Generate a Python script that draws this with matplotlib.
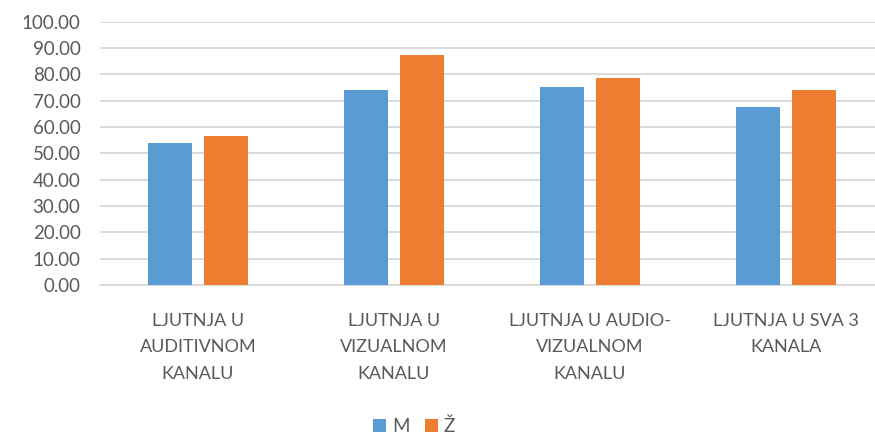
import matplotlib
matplotlib.use("Agg")
import matplotlib.pyplot as plt
import numpy as np

categories = [
    "LJUTNJA U\nAUDITIVNOM\nKANALU",
    "LJUTNJA U\nVIZUALNOM\nKANALU",
    "LJUTNJA U AUDIO-\nVIZUALNOM\nKANALU",
    "LJUTNJA U SVA 3\nKANALA",
]
series_names = ["M", "Ž"]
m_values = [53.8, 73.9, 75.1, 67.7]
z_values = [56.7, 87.1, 78.4, 74.1]
y_ticks = np.arange(0, 101, 10)

BLUE = "#5B9BD5"
ORANGE = "#ED7D31"
TEXT = "#595959"
GRID = "#D9D9D9"

plt.rcParams["font.family"] = ["Lato", "DejaVu Sans"]

W, H = 875, 436
fig = plt.figure(figsize=(W / 100, H / 100), dpi=100)
ax = fig.add_axes([100 / W, 151 / H, 784 / W, 263.5 / H])

x = np.arange(len(categories))
bw = 0.225
off = bw / 2 + 0.03
ax.bar(x - off, m_values, bw, color=BLUE, label=series_names[0], zorder=3)
ax.bar(x + off, z_values, bw, color=ORANGE, label=series_names[1], zorder=3)

ax.set_xlim(-0.5, len(categories) - 0.5)
ax.set_ylim(0, 100)
ax.set_yticks(y_ticks)
ax.set_yticklabels([f"{v:.2f}" for v in y_ticks], color=TEXT, fontsize=13.5)
ax.yaxis.grid(True, color=GRID, linewidth=1.3, zorder=0)
ax.tick_params(axis="y", length=0, pad=14)
ax.set_xticks(x)
ax.set_xticklabels(categories, color=TEXT, fontsize=13, linespacing=1.8)
ax.tick_params(axis="x", length=0, pad=20)
for s in ["top", "right", "left"]:
    ax.spines[s].set_visible(False)
ax.spines["bottom"].set_color(GRID)
ax.spines["bottom"].set_linewidth(1.3)

fig.legend(loc="center", bbox_to_anchor=(414 / W, 1 - 426 / H), ncol=2,
           frameon=False, fontsize=13.5, labelcolor=TEXT, handlelength=0.7,
           handleheight=0.7, handletextpad=0.3, columnspacing=0.8)

fig.savefig("out.png", dpi=100)
